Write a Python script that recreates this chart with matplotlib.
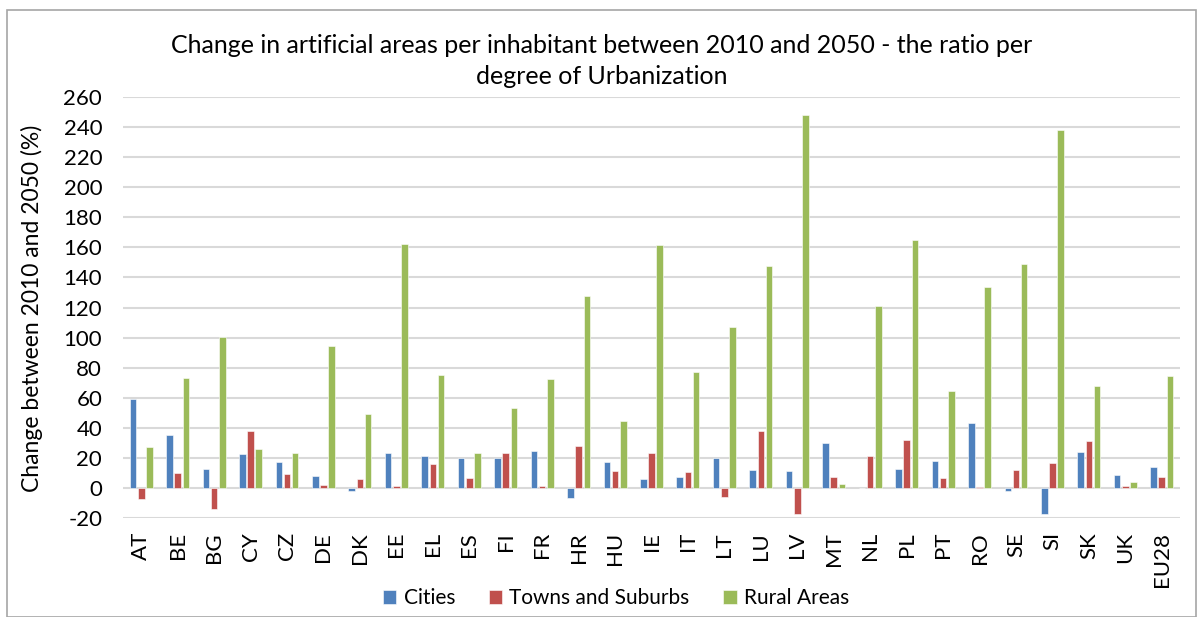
import matplotlib
matplotlib.use("Agg")
import matplotlib.pyplot as plt
import numpy as np
from matplotlib.patches import Rectangle

countries = ["AT", "BE", "BG", "CY", "CZ", "DE", "DK", "EE", "EL", "ES", "FI", "FR", "HR", "HU",
             "IE", "IT", "LT", "LU", "LV", "MT", "NL", "PL", "PT", "RO", "SE", "SI", "SK", "UK", "EU28"]
cities = [59, 35.4, 12.6, 22.4, 17, 7.7, -1.8, 23, 21.1, 19.9, 20.2, 24.4, -6.5, 17.3,
          5.9, 7.4, 19.9, 11.6, 11, 29.6, 0, 12.4, 18, 43.1, -2.2, -17.5, 23.6, 8.4, 13.9]
towns = [-7.1, 9.9, -14.1, 37.8, 9.4, 1.8, 5.9, 1.5, 15.9, 6.8, 23.5, 1.1, 27.9, 11.1,
         23.4, 10.8, -6.1, 37.6, -17.6, 7.2, 21.1, 31.9, 6.9, 0.8, 12.2, 16.5, 31.2, 1.3, 7.2]
rural = [27.1, 73.3, 100.7, 25.8, 23, 94.6, 49.3, 162, 75.4, 23.4, 53.4, 72.5, 127.8, 44.3,
         161.8, 76.9, 107, 147.3, 248.2, 2.4, 121.3, 164.7, 64.3, 133.8, 149, 237.9, 67.7, 3.9, 74.6]

series_names = ["Cities", "Towns and Suburbs", "Rural Areas"]
colors = ["#4F81BD", "#C0504D", "#9BBB59"]
title = "Change in artificial areas per inhabitant between 2010 and 2050 - the ratio per\ndegree of Urbanization"
ylabel = "Change between 2010 and 2050 (%)"
yticks = list(range(-20, 261, 20))

plt.rcParams['font.family'] = ['Lato', 'DejaVu Sans']

W, H = 1203, 617
fig = plt.figure(figsize=(W / 100, H / 100), dpi=100)
fig.patch.set_facecolor("white")

# outer frame
fig.add_artist(Rectangle((7 / W, 0), (1196 - 7) / W, 1 - 10 / H, transform=fig.transFigure,
                         fill=False, edgecolor="#A6A6A6", linewidth=1.2))

left, right, top, bottom = 123, 1180, 97, 518
ax = fig.add_axes([left / W, 1 - bottom / H, (right - left) / W, (bottom - top) / H])

x = np.arange(len(countries))
bw = 0.18
off = 0.225
for i, (vals, name, c) in enumerate(zip([cities, towns, rural], series_names, colors)):
    ax.bar(x + (i - 1) * off, vals, width=bw, color=c, label=name, zorder=3,
           edgecolor="white", linewidth=0.4)

ax.set_ylim(-20, 260)
ax.set_xlim(-0.5, len(countries) - 0.5)
ax.set_yticks(yticks)
ax.set_yticklabels([str(v) for v in yticks], fontsize=16)
ax.set_xticks(x)
ax.set_xticklabels(countries, rotation=90, fontsize=16)
ax.tick_params(axis="x", length=0, pad=10)
ax.tick_params(axis="y", length=0, pad=15)
ax.grid(axis="y", color="#D9D9D9", linewidth=1.5, zorder=0)
for s in ax.spines.values():
    s.set_visible(False)
ax.set_facecolor("white")

fig.text(0.5, 1 - 61 / H, title, ha="center", va="center", fontsize=18,
         linespacing=1.4)
fig.text(32 / W, 1 - 308 / H, ylabel, rotation=90, ha="center", va="center", fontsize=16.5)

handles, labels = ax.get_legend_handles_labels()
fig.legend(handles, labels, loc="center", bbox_to_anchor=(616 / W, 1 - 598 / H), ncol=3,
           frameon=False, fontsize=15, handlelength=0.65, handleheight=0.65,
           handletextpad=0.35, columnspacing=1.6)

fig.savefig("out.png", dpi=100, facecolor="white")
